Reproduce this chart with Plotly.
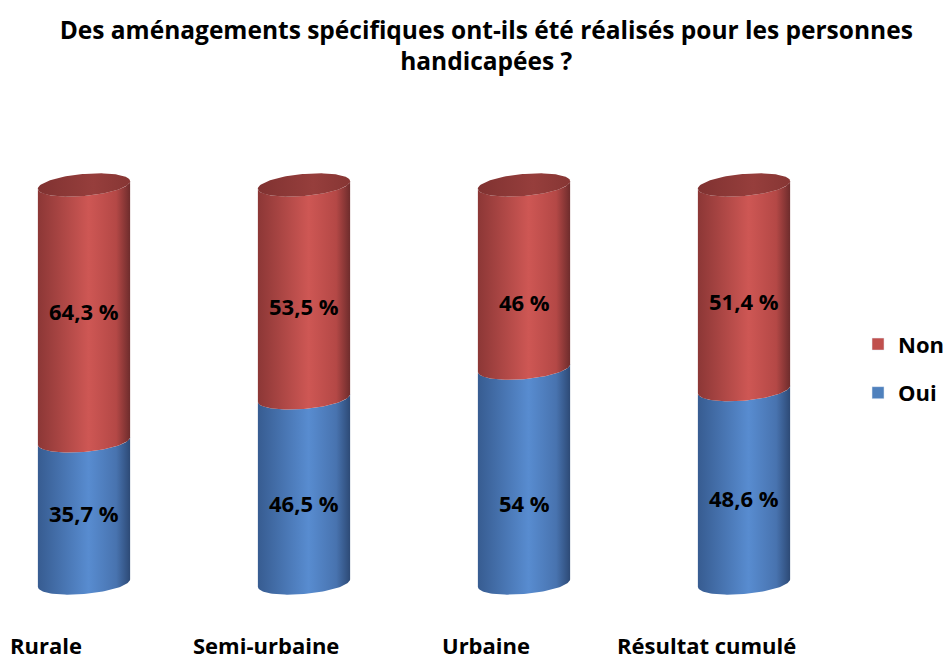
import numpy as np
import plotly.graph_objects as go

categories = ["Rurale", "Semi-urbaine", "Urbaine", "Résultat cumulé"]
oui = [35.7, 46.5, 54.0, 48.6]
non = [64.3, 53.5, 46.0, 51.4]
oui_labels = ["35,7 %", "46,5 %", "54 %", "48,6 %"]
non_labels = ["64,3 %", "53,5 %", "46 %", "51,4 %"]
title_text = "Des aménagements spécifiques ont-ils été réalisés pour les personnes<br>handicapées ?"

# style: small pixel nudges of the value labels (as placed by the original 3D chart)
oui_label_nudge = [-1, -13, -27, -12]
non_label_nudge = [2, -15, -25, -14]

FONT = "Open Sans"
RED_SCALE = [[0, "rgb(140,55,54)"], [0.55, "rgb(206,87,84)"], [0.85, "rgb(180,72,70)"], [1, "rgb(110,44,44)"]]
BLUE_SCALE = [[0, "rgb(55,92,145)"], [0.55, "rgb(88,140,208)"], [0.85, "rgb(72,115,175)"], [1, "rgb(45,74,118)"]]
CAP_SCALE = [[0, "rgb(128,50,49)"], [0.6, "rgb(150,62,60)"], [1, "rgb(135,54,52)"]]

# plot-area geometry (pixels per data unit) used to draw the cylinder ellipses
PXX = 220.0
PXY = 3.98
A = 46.3
B = 11.0
PHI = np.deg2rad(5.0)
t_front = np.linspace(np.pi, 2 * np.pi, 60)
t_full = np.linspace(0, 2 * np.pi, 120)


def ell(cx, v, t):
    dx = A * np.cos(t) * np.cos(PHI) - B * np.sin(t) * np.sin(PHI)
    dy = A * np.cos(t) * np.sin(PHI) + B * np.sin(t) * np.cos(PHI)
    return cx + dx / PXX, v + dy / PXY


def segment(cx, v0, v1):
    x0, y0 = ell(cx, v0, t_front)
    x1, y1 = ell(cx, v1, t_front[::-1])
    return np.concatenate([x0, x1, [x0[0]]]), np.concatenate([y0, y1, [y0[0]]])


fig = go.Figure()
for i in range(len(categories)):
    xs, ys = segment(i, 0, oui[i])
    fig.add_trace(go.Scatter(x=xs, y=ys, mode="lines", line=dict(width=0), fill="toself",
                             fillgradient=dict(type="horizontal", colorscale=BLUE_SCALE),
                             showlegend=False, hoverinfo="skip"))
    xs, ys = segment(i, oui[i], oui[i] + non[i])
    fig.add_trace(go.Scatter(x=xs, y=ys, mode="lines", line=dict(width=0), fill="toself",
                             fillgradient=dict(type="horizontal", colorscale=RED_SCALE),
                             showlegend=False, hoverinfo="skip"))
    cx_, cy_ = ell(i, oui[i] + non[i], t_full)
    fig.add_trace(go.Scatter(x=cx_, y=cy_, mode="lines", line=dict(width=0), fill="toself",
                             fillgradient=dict(type="horizontal", colorscale=CAP_SCALE),
                             showlegend=False, hoverinfo="skip"))
    fig.add_annotation(x=i, y=oui[i] / 2, text=oui_labels[i], showarrow=False, yshift=oui_label_nudge[i],
                       font=dict(family=FONT, size=22, color="black", weight="bold"))
    fig.add_annotation(x=i, y=oui[i] + non[i] / 2, text=non_labels[i], showarrow=False,
                       yshift=non_label_nudge[i],
                       font=dict(family=FONT, size=22, color="black", weight="bold"))
    fig.add_annotation(x=i, xref="x", y=0, yref="paper", yanchor="middle", yshift=-25, xshift=-38,
                       text=categories[i], showarrow=False,
                       font=dict(family=FONT, size=22, color="black", weight="bold"))

# legend entries
fig.add_trace(go.Bar(x=[None], y=[None], name="Non", marker_color="rgb(192,80,77)", legendgroup="n"))
fig.add_trace(go.Bar(x=[None], y=[None], name="Oui", marker_color="rgb(79,129,189)", legendgroup="o"))

fig.update_layout(
    width=946, height=655,
    paper_bgcolor="white", plot_bgcolor="white",
    margin=dict(l=0, r=106, t=150, b=35),
    title=dict(text=title_text, x=0.514, xanchor="center", y=0.941, yanchor="top",
               font=dict(family=FONT, size=24.5, color="black", weight="bold")),
    xaxis=dict(range=[-84 / PXX, -84 / PXX + 840 / PXX], visible=False, fixedrange=True),
    yaxis=dict(range=[(583 - 620) / PXY, (583 - 150) / PXY], visible=False, fixedrange=True),
    legend=dict(xref="container", yref="container", x=0.907, y=0.437, xanchor="left", yanchor="middle",
                font=dict(family=FONT, size=22, color="black", weight="bold"),
                tracegroupgap=17, traceorder="grouped", bgcolor="rgba(0,0,0,0)"),
    showlegend=True,
)

fig.write_html("out.html", config={"displayModeBar": False},
               post_script="document.body.style.margin='0px';")
